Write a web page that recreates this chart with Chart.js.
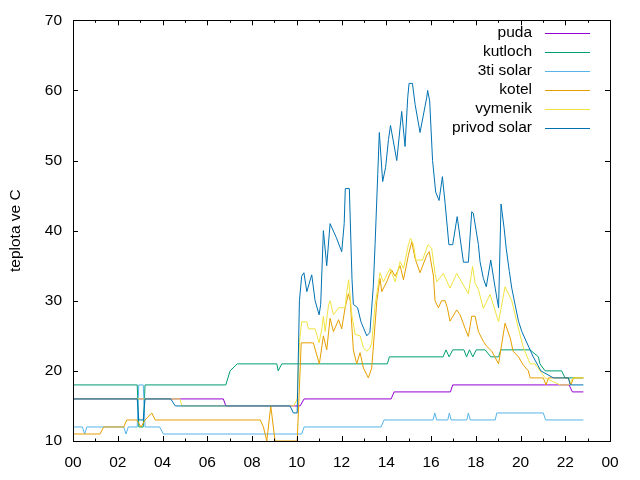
<!DOCTYPE html>
<html>
<head>
<meta charset="utf-8">
<script src="https://cdn.jsdelivr.net/npm/chart.js@4.4.1/dist/chart.umd.min.js"></script>
<style>
  html, body { margin: 0; padding: 0; background: #fff; }
  canvas { display: block; }
</style>
</head>
<body>
<canvas id="tempChart" width="640" height="480"></canvas>
<script>
// ---- Data (hours of day -> temperature in C) ----
const seriesLabels = ['puda', 'kutloch', '3ti solar', 'kotel', 'vymenik', 'privod solar'];
const seriesColors = ['#9400d3', '#009e73', '#56b4e9', '#e69f00', '#f0e442', '#0072b2'];
const xTickHours = [0, 2, 4, 6, 8, 10, 12, 14, 16, 18, 20, 22, 24];
const yTickValues = [10, 20, 30, 40, 50, 60, 70];

const pudaT = [0, 6.72, 6.83, 10.15, 10.33, 14.22, 14.35, 16.87, 16.97, 22.17, 22.32, 22.81];
const pudaV = [16, 16, 15, 15, 16, 16, 17, 17, 18, 18, 17, 17];

const kutlochT = [0, 2.87, 2.94, 3.14, 3.22, 6.83, 7.02, 7.34, 9.11, 9.17, 9.33, 14.05, 14.14, 16.54, 16.67,
  16.81, 16.97, 17.47, 17.59, 17.72, 17.87, 18.02, 18.42, 18.67, 19.02, 19.12, 20.43, 20.8, 20.87, 21.1,
  21.84, 21.99, 22.81];
const kutlochV = [18, 18, 12, 12, 18, 18, 20, 21, 21, 20, 21, 21, 22, 22, 23,
  22, 23, 23, 22, 23, 22, 23, 23, 22, 22, 23, 23, 22, 21, 20,
  20, 19, 19];

const solar3T = [0, 0.42, 0.52, 0.62, 2.27, 2.37, 2.47, 2.87, 2.94, 3.14, 3.22, 3.87, 4.04, 10.22, 10.33,
  13.77, 13.9, 16.09, 16.17, 16.25, 16.75, 16.82, 16.9, 17.6, 17.67, 17.75, 18.87, 18.94, 21.02, 21.12, 22.81];
const solar3V = [12, 12, 11, 12, 12, 11, 12, 12, 18, 18, 12, 12, 11, 11, 12,
  12, 13, 13, 14, 13, 13, 14, 13, 13, 14, 13, 13, 14, 14, 13, 13];

const kotelT = [0, 1.21, 1.37, 2.27, 2.4, 2.85, 3.04, 3.22, 3.52, 3.67, 8.37, 8.51, 8.66, 8.84, 9.03, 10.02,
  10.2, 10.74, 11.01, 11.19, 11.34, 11.49, 11.64, 11.87, 12.01, 12.16, 12.31, 12.39, 12.53, 12.68, 12.83,
  12.98, 13.2, 13.35, 13.58, 13.72, 13.8, 14.02, 14.24, 14.4, 14.62, 14.77, 14.99, 15.14, 15.29, 15.51,
  15.81, 15.92, 16.11, 16.18, 16.33, 16.47, 16.63, 16.73, 16.85, 17.15, 17.3, 17.52, 17.67, 17.82, 17.97,
  18.12, 18.34, 18.49, 18.72, 18.87, 19.02, 19.31, 19.54, 19.67, 19.91, 20.13, 20.35, 20.43, 21.02, 21.14,
  21.25, 22.14, 22.25, 22.37, 22.81];
const kotelV = [11, 11, 12, 12, 13, 13, 12, 13, 14, 13, 13, 12, 10, 15, 10, 10,
  24, 24, 21, 25, 23, 27.5, 25.6, 27.3, 26, 29, 31, 30, 23, 21, 22.6,
  20.4, 19, 20.4, 30, 33.2, 31.3, 32.7, 34.4, 33.5, 35, 33, 36.5, 38.4, 36, 34,
  36.5, 37, 33.5, 30, 29, 30, 30, 29, 27.1, 28.7, 28, 26.1, 24.9, 27.8, 27.8,
  25.6, 24.2, 23.5, 22.8, 21.9, 21, 26.8, 24.7, 22.8, 22, 20.8, 20, 19, 19, 18,
  19, 19, 18, 19, 19];

const vymenikT = [0, 4.77, 4.87, 9.87, 10.02, 10.12, 10.22, 10.45, 10.52, 10.82, 11.0, 11.12, 11.19, 11.27,
  11.42, 11.49, 11.64, 11.87, 12.16, 12.24, 12.32, 12.46, 12.61, 12.83, 12.98, 13.13, 13.28, 13.35, 13.5,
  13.58, 13.72, 13.87, 14.17, 14.4, 14.62, 14.77, 14.99, 15.09, 15.22, 15.32, 15.62, 15.81, 15.87, 16.03,
  16.18, 16.26, 16.55, 16.85, 17.15, 17.67, 17.86, 17.97, 18.12, 18.34, 18.64, 19.02, 19.31, 19.61, 19.91,
  20.13, 20.43, 20.65, 21.1, 21.77, 22.14, 22.36, 22.81];
const vymenikV = [16, 16, 15, 15, 16, 24, 27, 27, 26, 26, 24, 26, 27.8, 25.6,
  29.4, 30, 28, 29, 29, 31.3, 33, 28, 25.2, 25, 23.3, 22.8, 23.3, 24, 29.4,
  31, 34, 32.7, 34.6, 32.7, 35.6, 34.6, 38, 38.9, 38, 35.8, 35.8, 37.5, 38, 37.5,
  33.9, 32.7, 33.9, 31.8, 33.9, 31, 34.9, 32.5, 31.6, 28.9, 30.9, 27, 32, 30, 26,
  23.3, 21, 21, 19, 18, 18, 19, 19];

const privodT = [0, 2.87, 2.94, 3.14, 3.22, 4.37, 4.57, 9.7, 9.85, 10.02, 10.12, 10.22, 10.32, 10.45, 10.67,
  10.82, 11.0, 11.07, 11.19, 11.34, 11.49, 11.77, 12.01, 12.12, 12.17, 12.35, 12.47, 12.53, 12.72, 12.87,
  13.13, 13.27, 13.42, 13.5, 13.62, 13.69, 13.84, 13.97, 14.1, 14.19, 14.47, 14.69, 14.84, 14.96, 15.02,
  15.17, 15.29, 15.51, 15.81, 15.85, 15.94, 16.07, 16.21, 16.36, 16.51, 16.63, 16.8, 16.97, 17.17, 17.45,
  17.67, 17.82, 17.89, 18.12, 18.19, 18.34, 18.47, 18.67, 18.87, 19.02, 19.13, 19.27, 19.36, 19.5, 19.61,
  19.76, 19.91, 20.06, 20.57, 20.91, 21.47, 22.14, 22.22, 22.81];
const privodV = [16, 16, 13, 13, 16, 16, 15, 15, 14, 14, 30, 33.5, 34, 31.3, 33.7,
  30, 28, 29.5, 40, 35, 41, 39, 37, 41, 46, 46, 33, 29.5, 29, 27,
  25, 25.5, 32, 38, 48, 54, 47, 49, 53, 55, 50, 57, 52, 59, 61,
  61, 58, 54, 59, 60, 58.5, 50, 45.5, 44.3, 47.7, 43.9, 38, 38, 42, 35.5,
  35.5, 42.7, 42.5, 38, 35.6, 33.2, 32, 35.8, 31.8, 29, 43.8, 40.3, 37.5, 34.2, 31.8,
  29.4, 27.1, 25.6, 22, 20, 19, 19, 18, 18];

const seriesTimes = [pudaT, kutlochT, solar3T, kotelT, vymenikT, privodT];
const seriesValues = [pudaV, kutlochV, solar3V, kotelV, vymenikV, privodV];

// ---- Fonts ----
const fontFamily = '"Liberation Sans", Arial, sans-serif';
const fontSize = 15.5;

// ---- Gnuplot-like frame: box + inward ticks on all sides ----
const framePlugin = {
  id: 'frame',
  afterDatasetsDraw(chart) {
    const { ctx, chartArea: a, scales } = chart;
    ctx.save();
    ctx.strokeStyle = '#000';
    ctx.lineWidth = 1;
    ctx.beginPath();
    // x ticks: major at even hours, minor at odd hours
    for (let h = 0; h <= 24; h++) {
      const x = Math.round(scales.x.getPixelForValue(h)) + 0.5;
      const len = h % 2 === 0 ? 5 : 2.5;
      ctx.moveTo(x, a.bottom); ctx.lineTo(x, a.bottom - len);
      ctx.moveTo(x, a.top); ctx.lineTo(x, a.top + len);
    }
    yTickValues.forEach(v => {
      const y = Math.round(scales.y.getPixelForValue(v)) + 0.5;
      ctx.moveTo(a.left, y); ctx.lineTo(a.left + 5, y);
      ctx.moveTo(a.right, y); ctx.lineTo(a.right - 5, y);
    });
    ctx.stroke();
    ctx.strokeRect(Math.round(a.left) + 0.5, Math.round(a.top) + 0.5,
      Math.round(a.right - a.left), Math.round(a.bottom - a.top));
    ctx.restore();
  }
};

// ---- Gnuplot-like key (text right-aligned, sample line on the right) ----
const keyPlugin = {
  id: 'key',
  afterDraw(chart) {
    const { ctx } = chart;
    ctx.save();
    ctx.font = fontSize + 'px ' + fontFamily;
    ctx.textAlign = 'right';
    ctx.textBaseline = 'middle';
    ctx.lineWidth = 1;
    seriesLabels.forEach((label, i) => {
      const y = 33 + i * 18.9;
      ctx.fillStyle = '#000';
      ctx.fillText(label, 532, y);
      ctx.strokeStyle = seriesColors[i];
      ctx.beginPath();
      ctx.moveTo(545, Math.round(y) + 0.5);
      ctx.lineTo(590, Math.round(y) + 0.5);
      ctx.stroke();
    });
    ctx.restore();
  }
};

const datasets = seriesLabels.map((label, i) => ({
  label,
  data: seriesTimes[i].map((t, k) => ({ x: t, y: seriesValues[i][k] })),
  borderColor: seriesColors[i],
  backgroundColor: seriesColors[i],
  borderWidth: 1,
  pointRadius: 0,
  tension: 0,
  fill: false,
  order: seriesLabels.length - i   // last series drawn on top, like gnuplot
}));

new Chart(document.getElementById('tempChart'), {
  type: 'line',
  data: { datasets },
  options: {
    responsive: false,
    animation: false,
    devicePixelRatio: 1,
    layout: { padding: { top: 19, right: 30, bottom: 0, left: 0 } },
    plugins: { legend: { display: false }, tooltip: { enabled: false } },
    scales: {
      x: {
        type: 'linear', min: 0, max: 24,
        afterBuildTicks: s => { s.ticks = xTickHours.map(v => ({ value: v })); },
        afterFit: s => { s.height = 39; },
        grid: { display: false, drawTicks: false },
        border: { display: false },
        ticks: {
          autoSkip: false, maxRotation: 0, padding: 12, color: '#000',
          font: { family: fontFamily, size: fontSize },
          callback: v => String(v % 24).padStart(2, '0')
        }
      },
      y: {
        type: 'linear', min: 10, max: 70,
        afterBuildTicks: s => { s.ticks = yTickValues.map(v => ({ value: v })); },
        afterFit: s => { s.width = 73; },
        grid: { display: false, drawTicks: false },
        border: { display: false },
        ticks: { padding: 11, color: '#000', font: { family: fontFamily, size: fontSize } },
        title: {
          display: true, text: 'teplota ve C', color: '#000',
          font: { family: fontFamily, size: fontSize },
          padding: { top: 6, bottom: 0 }
        }
      }
    }
  },
  plugins: [framePlugin, keyPlugin]
});
</script>
</body>
</html>
